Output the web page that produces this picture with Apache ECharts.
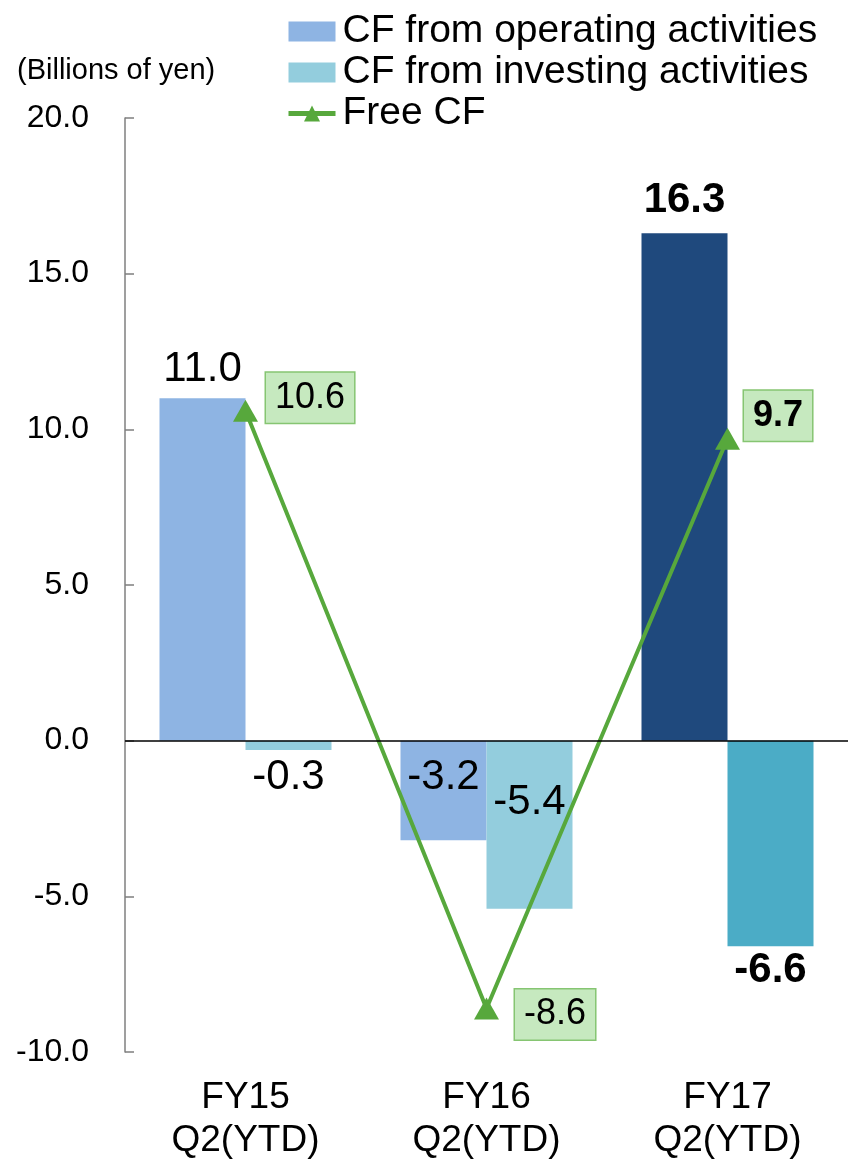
<!DOCTYPE html>
<html>
<head>
<meta charset="utf-8">
<script src="https://cdn.jsdelivr.net/npm/echarts@6/dist/echarts.min.js"></script>
<style>
html,body{margin:0;padding:0;background:#fff;}
#chart{width:848px;height:1159px;}
</style>
</head>
<body>
<div id="chart"></div>
<script>
var categories = ['FY15\nQ2(YTD)', 'FY16\nQ2(YTD)', 'FY17\nQ2(YTD)'];
var operatingCF = [11.0, -3.2, 16.3];
var investingCF = [-0.3, -5.4, -6.6];
var freeCF = [10.6, -8.6, 9.7];
var seriesNames = ['CF from operating activities', 'CF from investing activities', 'Free CF'];
var yTicks = {min: -10, max: 20, interval: 5};
var unitLabel = '(Billions of yen)';

var FONT = '"Liberation Sans", Arial, sans-serif';
var opColors = ['#8EB4E3', '#8EB4E3', '#1F497D'];
var invColors = ['#93CDDD', '#93CDDD', '#4BACC6'];
var bold = [false, false, true];

// label placement per category (styling only)
var opLabelCfg = [
  {position: 'top', distance: 8, offset: [0, 0]},
  {position: 'inside', distance: 0, offset: [0, -13]},
  {position: 'top', distance: 12, offset: [0, 0]}
];
var invLabelCfg = [
  {position: 'bottom', distance: 6, offset: [0, 0]},
  {position: 'inside', distance: 0, offset: [0, -22]},
  {position: 'bottom', distance: 3, offset: [0, 0]}
];
var fcfOffsets = [[0, -13], [0, 6], [0, -23]];
var fcfDist = [8, 16, 4];

function barData(values, colors, cfg) {
  return values.map(function (v, i) {
    var pos = cfg[i].position;
    if (v < 0 && pos === 'bottom') pos = 'outside';
    return {
      value: v,
      itemStyle: {color: colors[i]},
      label: {
        show: true,
        position: pos,
        distance: cfg[i].distance,
        offset: cfg[i].offset,
        fontWeight: bold[i] ? 'bold' : 'normal'
      }
    };
  });
}

var chart = echarts.init(document.getElementById('chart'));
chart.setOption({
  animation: false,
  backgroundColor: '#fff',
  textStyle: {fontFamily: FONT, color: '#000'},
  title: {
    text: unitLabel,
    left: 12, top: 51,
    textStyle: {fontFamily: FONT, fontSize: 29, fontWeight: 'normal', color: '#000'}
  },
  legend: {
    orient: 'vertical',
    left: 281, top: 7,
    itemWidth: 47, itemHeight: 20, itemGap: 2,
    data: [
      {name: seriesNames[0], icon: 'rect'},
      {name: seriesNames[1], icon: 'rect'},
      {name: seriesNames[2]}
    ],
    lineStyle: {width: 5},
    textStyle: {fontFamily: FONT, fontSize: 39, color: '#000', padding: [0, 0, 0, 2]}
  },
  grid: {left: 125, right: 0, top: 118, bottom: 107, containLabel: false, outerBoundsMode: 'none'},
  xAxis: {
    type: 'category',
    data: categories,
    axisLine: {show: false},
    axisTick: {show: false},
    axisLabel: {fontFamily: FONT, fontSize: 37, color: '#000', margin: 24, lineHeight: 43}
  },
  yAxis: {
    type: 'value',
    min: yTicks.min, max: yTicks.max, interval: yTicks.interval,
    splitLine: {show: false},
    axisLine: {show: true, onZero: false, lineStyle: {color: '#7F7F7F', width: 1.5}},
    axisTick: {show: true, inside: true, length: 9, lineStyle: {color: '#7F7F7F', width: 1.5}},
    axisLabel: {
      fontFamily: FONT, fontSize: 32, color: '#000', margin: 36,
      formatter: function (v) { return v.toFixed(1); }
    }
  },
  series: [
    {
      name: seriesNames[0],
      type: 'bar',
      barWidth: 86,
      barGap: '0%',
      itemStyle: {color: opColors[0]},
      label: {fontFamily: FONT, fontSize: 42, color: '#000', formatter: function (p) { return p.value.toFixed(1); }},
      data: barData(operatingCF, opColors, opLabelCfg),
      markLine: {
        silent: true,
        symbol: 'none',
        label: {show: false},
        lineStyle: {color: '#000', type: 'solid', width: 1.5},
        data: [{yAxis: 0}],
        z: 10
      }
    },
    {
      name: seriesNames[1],
      type: 'bar',
      barWidth: 86,
      barGap: '0%',
      itemStyle: {color: invColors[0]},
      label: {fontFamily: FONT, fontSize: 42, color: '#000', formatter: function (p) { return p.value.toFixed(1); }},
      data: barData(investingCF, invColors, invLabelCfg)
    },
    {
      name: seriesNames[2],
      type: 'line',
      symbol: 'triangle',
      symbolSize: [25, 22],
      lineStyle: {color: '#57A83C', width: 4},
      itemStyle: {color: '#57A83C'},
      z: 5,
      data: freeCF.map(function (v, i) {
        return {
          value: v,
          label: {
            show: true,
            position: 'right',
            distance: fcfDist[i],
            offset: fcfOffsets[i],
            fontWeight: bold[i] ? 'bold' : 'normal'
          }
        };
      }),
      label: {
        fontFamily: FONT, fontSize: 36, color: '#000',
        backgroundColor: '#C6E9BF',
        borderColor: '#86C572', borderWidth: 1.5,
        padding: [8, 9, 6, 9],
        formatter: function (p) { return p.value.toFixed(1); }
      }
    }
  ]
});
</script>
</body>
</html>
